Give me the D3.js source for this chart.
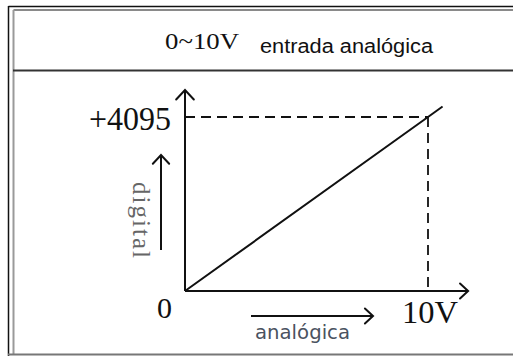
<!DOCTYPE html>
<html>
<head>
<meta charset="utf-8">
<script src="https://cdn.jsdelivr.net/npm/d3@7"></script>
<style>
  html, body { margin: 0; padding: 0; background: #fff; }
  svg { display: block; }
</style>
</head>
<body>
<svg id="chart" width="513" height="360"></svg>
<script>
// Transfer curve of a 0~10V analog input: voltage in, 12-bit count out
const voltage = [0, 10, 10.6];          // V
const counts = [0, 4095, 4341];         // digital value
const xTicks = [{ v: 10, label: "10V" }];
const yTicks = [{ v: 4095, label: "+4095" }];
const originLabel = "0";
const titleMain = "0~10V";
const titleSub = "entrada analógica";
const xTitle = "analógica";
const yTitle = "digital";
const xAxisEnd = 11.65;   // arrow tip of the voltage axis
const yAxisEnd = 4730;    // arrow tip of the count axis

const svg = d3.select("#chart");
const x = d3.scaleLinear().domain([0, 10]).range([185, 428]);
const y = d3.scaleLinear().domain([0, 4095]).range([291, 117]);

// frame: double line on the left and top, header divider, bottom rule
const frame = svg.append("g");
frame.append("line").attr("x1", 8.5).attr("x2", 513).attr("y1", 6.5).attr("y2", 6.5)
  .attr("stroke", "#111").attr("stroke-width", 1.5);
frame.append("line").attr("x1", 13.5).attr("x2", 513).attr("y1", 10).attr("y2", 10)
  .attr("stroke", "#8a8a8a").attr("stroke-width", 2);
frame.append("line").attr("x1", 8.5).attr("x2", 8.5).attr("y1", 6).attr("y2", 356)
  .attr("stroke", "#111").attr("stroke-width", 1.5);
frame.append("line").attr("x1", 13.5).attr("x2", 13.5).attr("y1", 10).attr("y2", 354)
  .attr("stroke", "#9a9a9a").attr("stroke-width", 2);
frame.append("line").attr("x1", 13).attr("x2", 513).attr("y1", 70.5).attr("y2", 70.5)
  .attr("stroke", "#333").attr("stroke-width", 1.8);
frame.append("line").attr("x1", 8).attr("x2", 513).attr("y1", 354.5).attr("y2", 354.5)
  .attr("stroke", "#777").attr("stroke-width", 2);

// header text
const head = svg.append("g");
head.append("text").attr("x", 165).attr("y", 49)
  .attr("font-family", "'Liberation Serif', 'Times New Roman', serif")
  .attr("font-size", 23).attr("fill", "#111")
  .attr("textLength", 74).attr("lengthAdjust", "spacingAndGlyphs")
  .text(titleMain);
head.append("text").attr("x", 260).attr("y", 53)
  .attr("font-family", "'Liberation Sans', Arial, sans-serif")
  .attr("font-size", 20).attr("fill", "#111")
  .attr("textLength", 173).attr("lengthAdjust", "spacingAndGlyphs")
  .text(titleSub);

// arrow helper: open chevron head at (x2, y2)
function arrow(g, x1, y1, x2, y2, head, width) {
  g.append("line").attr("x1", x1).attr("y1", y1).attr("x2", x2).attr("y2", y2)
    .attr("stroke", "#111").attr("stroke-width", width);
  const a = Math.atan2(y2 - y1, x2 - x1);
  const spread = Math.PI / 4.2;
  const p = [
    [x2 - head * Math.cos(a - spread), y2 - head * Math.sin(a - spread)],
    [x2, y2],
    [x2 - head * Math.cos(a + spread), y2 - head * Math.sin(a + spread)]
  ];
  g.append("path").attr("d", d3.line()(p))
    .attr("fill", "none").attr("stroke", "#111").attr("stroke-width", width)
    .attr("stroke-linejoin", "miter").attr("stroke-linecap", "round");
}

const plot = svg.append("g");

// axes
arrow(plot, x(0), y(0), x(0), y(yAxisEnd), 13, 2);
arrow(plot, x(0), y(0), x(xAxisEnd), y(0), 11, 2);

// reference lines to full scale
plot.append("line")
  .attr("x1", x(0)).attr("x2", x(xTicks[0].v))
  .attr("y1", y(yTicks[0].v)).attr("y2", y(yTicks[0].v))
  .attr("stroke", "#111").attr("stroke-width", 1.8).attr("stroke-dasharray", "10,6");
plot.append("line")
  .attr("x1", x(xTicks[0].v)).attr("x2", x(xTicks[0].v))
  .attr("y1", y(yTicks[0].v)).attr("y2", y(0))
  .attr("stroke", "#111").attr("stroke-width", 1.8).attr("stroke-dasharray", "10,6");

// transfer line
const pts = voltage.map((v, i) => [x(v), y(counts[i])]);
plot.append("path").attr("d", d3.line()(pts))
  .attr("fill", "none").attr("stroke", "#111").attr("stroke-width", 2);

// tick labels
const serif = "'Liberation Serif', 'Times New Roman', serif";
plot.selectAll(".ytick").data(yTicks).join("text")
  .attr("x", x(0) - 14).attr("y", d => y(d.v) + 13)
  .attr("text-anchor", "end")
  .attr("font-family", serif).attr("font-size", 33).attr("fill", "#111")
  .attr("textLength", 82).attr("lengthAdjust", "spacingAndGlyphs")
  .text(d => d.label);
plot.selectAll(".xtick").data(xTicks).join("text")
  .attr("x", d => x(d.v) - 26).attr("y", y(0) + 32)
  .attr("font-family", serif).attr("font-size", 31).attr("fill", "#111")
  .attr("textLength", 56).attr("lengthAdjust", "spacingAndGlyphs")
  .text(d => d.label);
plot.append("text")
  .attr("x", 157).attr("y", 318)
  .attr("font-family", serif).attr("font-size", 30).attr("fill", "#111")
  .text(originLabel);

// axis titles with direction arrows
arrow(plot, 161, 250, 161, 155, 12, 2);
plot.append("text")
  .attr("transform", "translate(133,182) rotate(90)")
  .attr("font-family", serif).attr("font-size", 25).attr("fill", "#666")
  .attr("textLength", 76).attr("lengthAdjust", "spacing")
  .text(yTitle);

arrow(plot, 251, 316, 373, 316, 11, 2);
plot.append("text")
  .attr("x", 255).attr("y", 339)
  .attr("font-family", "'DejaVu Sans', 'Open Sans', sans-serif")
  .attr("font-size", 19).attr("fill", "#4a5260")
  .attr("textLength", 95).attr("lengthAdjust", "spacingAndGlyphs")
  .text(xTitle);
</script>
</body>
</html>
